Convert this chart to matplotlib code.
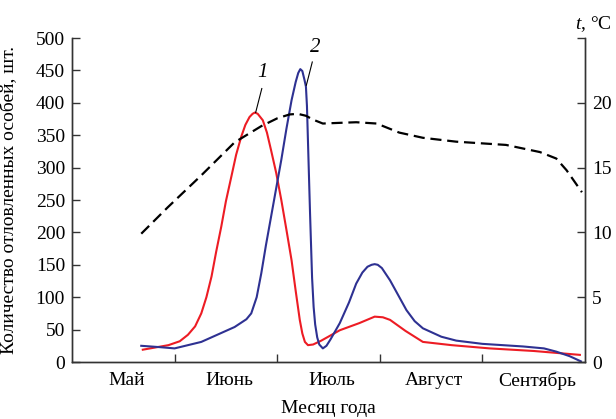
import matplotlib
matplotlib.use("Agg")
import matplotlib.pyplot as plt

# month axis: 0 = start of May, 5 = end of September
MONTHS = ["Май", "Июнь", "Июль", "Август", "Сентябрь"]

# curve 1 (red), individuals caught
RED_X = [0.69, 0.94, 1.05, 1.13, 1.20, 1.26, 1.31, 1.36, 1.405, 1.455, 1.50,
         1.553, 1.60, 1.65, 1.69, 1.73, 1.76, 1.783, 1.81, 1.86, 1.90,
         1.94, 1.99, 2.04, 2.09, 2.14, 2.18, 2.22, 2.245, 2.27, 2.30, 2.35,
         2.43, 2.61, 2.80, 2.95, 3.03, 3.10, 3.25, 3.42, 3.70, 4.07, 4.50, 4.95]
RED_Y = [19, 26, 32, 42, 55, 75, 100, 132, 170, 209, 248,
         286, 320, 348, 366, 378, 383, 385, 383, 373, 354,
         327, 292, 250, 204, 157, 110, 65, 44, 31, 26, 27,
         33, 49, 60, 70, 69, 65, 48, 31, 26, 21, 17, 11]

# curve 2 (blue), individuals caught
BLUE_X = [0.675, 0.85, 1.0, 1.26, 1.585, 1.70, 1.747, 1.80, 1.845, 1.89, 1.94,
          1.99, 2.04, 2.09, 2.14, 2.18, 2.205, 2.225, 2.245, 2.265, 2.28,
          2.29, 2.30, 2.31, 2.32, 2.33, 2.34, 2.355, 2.37, 2.39, 2.41,
          2.445, 2.48, 2.52, 2.61, 2.70, 2.77, 2.83, 2.88, 2.92, 2.95, 2.98,
          3.02, 3.10, 3.18, 3.26, 3.34, 3.42, 3.60, 3.745, 4.0, 4.395,
          4.60, 4.72, 4.85, 4.96]
BLUE_Y = [25, 23, 21, 31, 54, 66, 75, 100, 137, 180, 224,
          268, 312, 360, 404, 432, 446, 452, 449, 436, 425,
          395, 340, 285, 230, 180, 130, 85, 58, 38, 27,
          21, 25, 35, 60, 92, 121, 138, 147, 150, 151, 150,
          145, 126, 103, 80, 63, 52, 39, 33, 28, 24,
          21, 16, 9, 1]

# dashed line, air temperature, deg C
TEMP_X = [0.675, 0.935, 1.26, 1.585, 1.845, 2.0, 2.12, 2.2, 2.28, 2.35, 2.445,
          2.6, 2.77, 2.97, 3.19, 3.42, 3.745, 4.23, 4.56, 4.72, 4.82, 4.97]
TEMP_Y = [9.9, 11.95, 14.4, 16.95, 18.2, 18.8, 19.1, 19.15, 19.0, 18.7, 18.4,
          18.45, 18.5, 18.4, 17.7, 17.3, 17.0, 16.75, 16.2, 15.7, 14.8, 13.1]

RED = "#ED1C24"
BLUE = "#2E3192"
AXIS_COLOR = "#333333"
FONT = ["Liberation Serif", "DejaVu Serif"]

plt.rcParams["font.family"] = FONT
plt.rcParams["mathtext.fontset"] = "custom"
plt.rcParams["mathtext.rm"] = "Liberation Serif"
plt.rcParams["mathtext.it"] = "Liberation Serif:italic"

fig = plt.figure(figsize=(6.16, 4.19), dpi=100)
ax = fig.add_axes([72 / 616, 57 / 419, 513 / 616, 324 / 419])
ax2 = ax.twinx()

ax.plot(RED_X, RED_Y, color=RED, lw=1.5, solid_joinstyle="round")
ax.plot(BLUE_X, BLUE_Y, color=BLUE, lw=1.5, solid_joinstyle="round")
ax2.plot(TEMP_X, TEMP_Y, color="black", lw=1.6, dashes=(5, 2.6))

ax.set_xlim(0, 5)
ax.set_ylim(0, 500)
ax2.set_ylim(0, 25)

ax.set_yticks(range(0, 501, 50))
ax2.set_yticks([0, 5, 10, 15, 20, 25])
ax2.set_yticklabels(["0", "5", "10", "15", "20", ""])

ax.set_xticks([1, 2, 3, 4])
ax.set_xticklabels([])
ax.set_xticks([i + 0.53 for i in range(5)], minor=True)
ax.set_xticklabels(MONTHS, minor=True)

FS = 14
ax.tick_params(axis="x", which="major", direction="in", length=6, width=1,
               color=AXIS_COLOR)
ax.tick_params(axis="x", which="minor", length=0, pad=7, labelsize=FS)
ax.tick_params(axis="y", direction="in", length=6, width=1, pad=5,
               color=AXIS_COLOR, labelsize=FS)
ax2.tick_params(axis="y", direction="in", length=6, width=1, pad=5,
                color=AXIS_COLOR, labelsize=FS)

for a in (ax, ax2):
    a.spines["top"].set_visible(False)
    for s in ("left", "right", "bottom"):
        a.spines[s].set_color(AXIS_COLOR)
        a.spines[s].set_linewidth(1)

ax.set_ylabel("Количество отловленных особей, шт.", fontsize=FS)
ax.yaxis.set_label_coords(-0.107, 0.5)
fig.text(0.533, 0.005, "Месяц года", fontsize=FS, ha="center", va="bottom")
fig.text(575 / 616, 1 - 29 / 419, r"$\mathit{t}$, °C", fontsize=FS,
         ha="left", va="baseline")

# curve labels with leader lines
ax.plot([1.79, 1.85], [385, 422], color="black", lw=0.8)
ax.text(1.86, 432, "1", fontsize=15, style="italic", ha="center", va="bottom")
ax.plot([2.284, 2.342], [427, 463], color="black", lw=0.8)
ax.text(2.374, 470, "2", fontsize=15, style="italic", ha="center", va="bottom")

fig.savefig("out.png", dpi=100)
